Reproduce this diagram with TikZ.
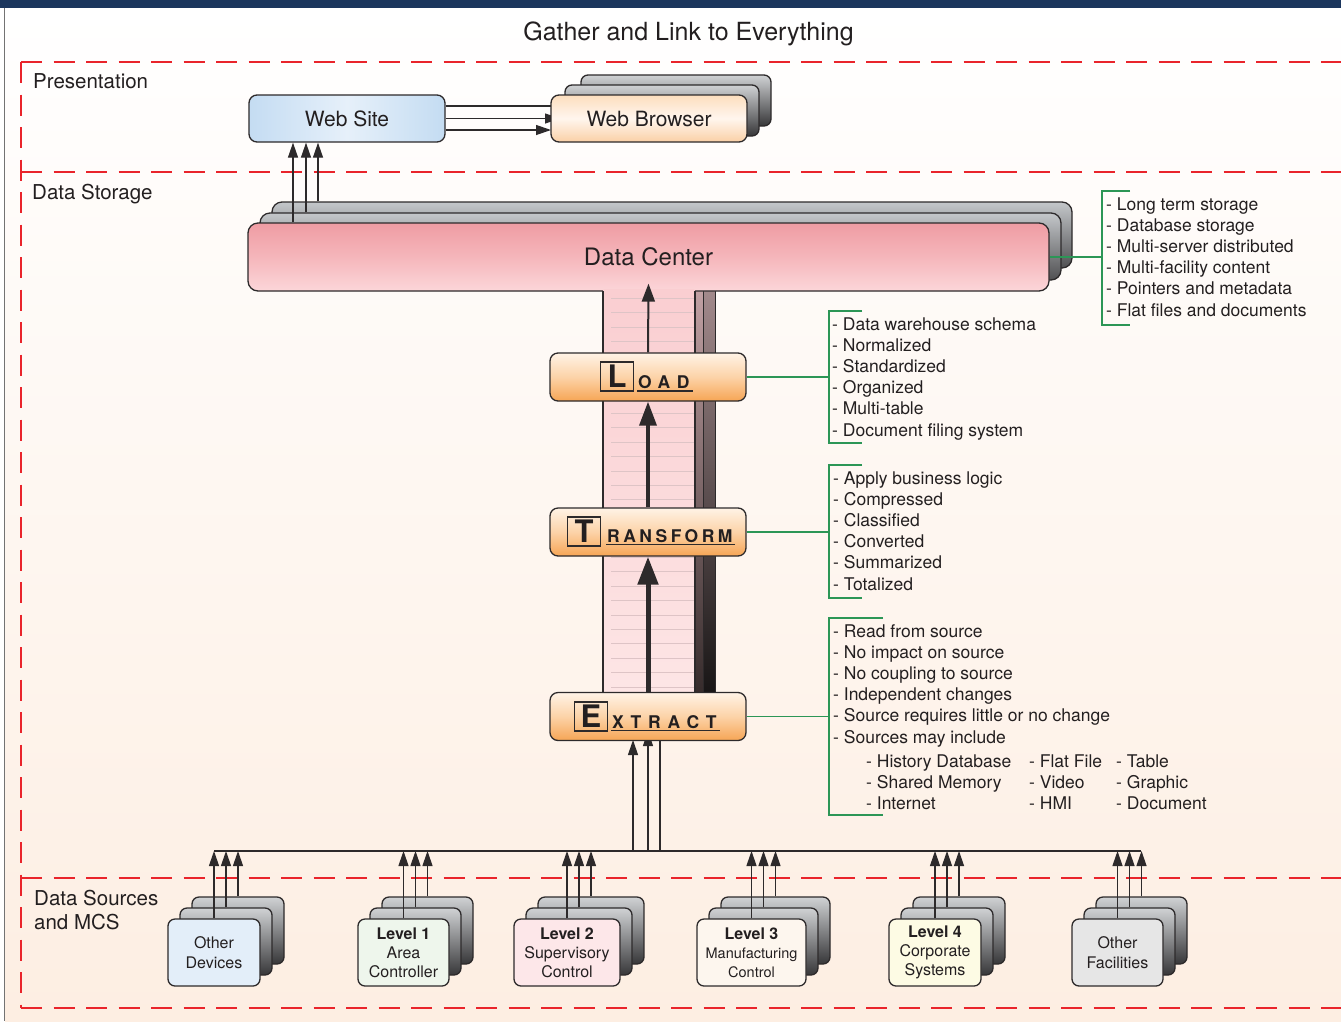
\documentclass[tikz,border=0pt]{standalone}
\usepackage{fontspec}
\setmainfont{TeX Gyre Heros}
\usetikzlibrary{arrows.meta}

\definecolor{barnavy}{RGB}{27,54,93}
\definecolor{zonered}{RGB}{233,36,43}
\definecolor{bgpeach}{RGB}{253,238,226}
\definecolor{linkgreen}{RGB}{44,150,86}
\definecolor{ink}{RGB}{35,31,32}
\definecolor{edge}{RGB}{45,42,43}
\definecolor{wsblue}{RGB}{196,220,242}
\definecolor{wslight}{RGB}{230,240,250}
\definecolor{wbtop}{RGB}{252,222,190}
\definecolor{wbmid}{RGB}{255,246,238}
\definecolor{wbbot}{RGB}{250,208,166}
\definecolor{dctop}{RGB}{239,156,163}
\definecolor{dcmid}{RGB}{245,182,187}
\definecolor{dcbot}{RGB}{252,214,217}
\definecolor{stemtop}{RGB}{250,206,209}
\definecolor{stembot}{RGB}{253,230,230}
\definecolor{stemline}{RGB}{222,196,198}
\definecolor{etltop}{RGB}{255,243,230}
\definecolor{etlmid}{RGB}{252,211,168}
\definecolor{etlbot}{RGB}{246,165,85}
\definecolor{laytop}{RGB}{208,210,212}
\definecolor{laybot}{RGB}{55,55,57}
\definecolor{dclaytop}{RGB}{196,199,202}
\definecolor{dclaybot}{RGB}{80,80,82}
\definecolor{shadeAtop}{RGB}{196,163,166}
\definecolor{shadeAbot}{RGB}{50,40,40}
\definecolor{shadeBtop}{RGB}{165,140,142}
\definecolor{shadeBbot}{RGB}{20,18,18}
\definecolor{srcblue}{RGB}{227,238,249}
\definecolor{srcgreen}{RGB}{238,246,236}
\definecolor{srcpink}{RGB}{253,231,233}
\definecolor{srccream}{RGB}{253,246,238}
\definecolor{srcyellow}{RGB}{253,251,228}
\definecolor{srcgray}{RGB}{230,230,230}

\tikzset{
  outline/.style={draw=edge, line width=1.3pt, rounded corners=8pt, inner sep=0pt, text=ink},
  backlayer/.style={outline, rounded corners=7pt, top color=laytop, bottom color=laybot},
  dclayer/.style={outline, rounded corners=10pt, top color=dclaytop, bottom color=dclaybot},
  srcbox/.style={outline, rounded corners=7pt, align=center, minimum height=67pt},
  etlbox/.style={outline, minimum width=196pt, minimum height=48pt,
    top color=etltop, bottom color=etlbot, middle color=etlmid},
  initial/.style={draw=edge, line width=1.8pt, inner sep=0pt, minimum width=33pt,
    minimum height=29pt, text=ink, font=\fontsize{31}{31}\selectfont\bfseries},
  spaced/.style={anchor=base west, inner sep=0pt, text=ink,
    font=\fontsize{17.5}{20}\selectfont\bfseries},
  section/.style={anchor=base west, inner sep=0pt, align=left, text=ink,
    font=\fontsize{20.5}{24}\selectfont},
  listtext/.style={anchor=base west, inner sep=0pt, align=left, text=ink,
    font=\fontsize{17.5}{21.2}\selectfont},
  arr/.style={draw=edge, line width=1.2pt, -{Triangle[length=15pt,width=10pt]}},
  flowthin/.style={draw=edge, line width=2pt, -{Triangle[length=18pt,width=13pt]}},
  flowmid/.style={draw=edge, line width=3.5pt, -{Triangle[length=24pt,width=17pt]}},
  flowthick/.style={draw=edge, line width=5pt, -{Triangle[length=28pt,width=20pt]}},
  link/.style={draw=linkgreen, line width=1.3pt},
  zone/.style={draw=zonered, line width=1.3pt, dash pattern=on 21pt off 11.5pt},
}

% one stacked data source: name, left x, width, fill, text, font
\newcommand\srcstack[6]{%
  \node[backlayer, minimum width=#3pt, minimum height=67pt] (#1b3) at ({#2+#3/2+24}, 930.5) {};
  \node[backlayer, minimum width=#3pt, minimum height=67pt] (#1b2) at ({#2+#3/2+12}, 941.5) {};
  \node[srcbox, fill=#4, minimum width=#3pt, font=#6] (#1) at ({#2+#3/2}, 952.5) {#5};
  \draw[arr] (#1.north) -- (#1.north |- busL);
  \draw[arr] (#1b2.north) -- (#1b2.north |- busL);
  \draw[arr] (#1b3.north) -- (#1b3.north |- busL);
}

\begin{document}
\begin{tikzpicture}[x=1pt,y=-1pt]
\useasboundingbox (0,0) rectangle (1341,1021);

% page background, header band and left rule
\fill[white] (0,0) rectangle (1341,1021);
\shade[top color=white, bottom color=bgpeach] (5,8) rectangle (1341,1021);
\fill[barnavy] (0,0) rectangle (1341,8);
\draw[black!55, line width=1.4pt] (4.5,8) -- (4.5,1021);

% tier boundaries
\draw[zone] (21,62) -- (1341,62);
\draw[zone] (21,172) -- (1341,172);
\draw[zone] (21,878) -- (1341,878);
\draw[zone] (21,1008) -- (1341,1008);
\draw[zone] (21,62) -- (21,1008);

\node[font=\fontsize{25}{28}\selectfont, text=ink] (title) at (688.5,34) {Gather and Link to Everything};
\node[section] (presentation) at (33,88) {Presentation};
\node[section] (storage) at (32,199) {Data Storage};
% multi-line nodes sit on the baseline of their last line
\node[section] (sources) at (34,929) {Data Sources\\and MCS};

% ---------- presentation tier ----------
\node[outline, minimum width=196pt, minimum height=47pt, left color=wsblue, right color=wsblue,
  middle color=wslight, font=\fontsize{21}{25}\selectfont] (ws) at (347,118.5) {Web Site};
\node[backlayer, minimum width=190pt, minimum height=51pt] (wbb3) at (676,100.5) {};
\node[backlayer, minimum width=194pt, minimum height=51pt] (wbb2) at (662,110.5) {};
\coordinate (r1) at (0,106);
\coordinate (r2) at (0,118.5);
\coordinate (r3) at (0,130);
\draw[draw=edge, line width=1.2pt] (ws.east |- r1) -- (wbb2.west |- r1);
\draw[arr] (ws.east |- r2) -- (560,118.5);
\draw[arr] (ws.east |- r3) -- (551,130);
\node[outline, minimum width=196pt, minimum height=47pt, top color=wbtop, bottom color=wbbot,
  middle color=wbmid, font=\fontsize{21}{25}\selectfont] (wb) at (649,118.5) {Web Browser};

% ---------- data center (T shaped stack) ----------
\node[dclayer, minimum width=800pt, minimum height=66pt] (dcb3) at (672,235) {};
\node[dclayer, minimum width=801pt, minimum height=67pt] (dcb2) at (660.5,246.5) {};
\shade[top color=shadeBtop, bottom color=shadeBbot] (680,282) rectangle (715,705);
\shade[top color=shadeAtop, bottom color=shadeAbot] (680,282) rectangle (703,705);
\draw[edge, line width=0.9pt] (703,282) -- (703,705) (715,282) -- (715,705);
\node[outline, rounded corners=10pt, minimum width=801pt, minimum height=68pt,
  top color=dctop, bottom color=dcbot, middle color=dcmid] (dc) at (648.5,257) {};
\shade[top color=stemtop, bottom color=stembot] (603.6,289) rectangle (694.4,705);
\foreach \k in {0,...,27}
  \draw[stemline, line width=0.5pt] (611,{298+14.4*\k}) -- (694,{298+14.4*\k});
\draw[edge, line width=1.3pt] (603,291) -- (603,705) (695,291) -- (695,705);
\node[text=ink, font=\fontsize{24}{28}\selectfont] (dclabel) at (dc.center) {Data Center};

% feeds up to the web site
\coordinate (q1) at (293,0);
\coordinate (q2) at (306,0);
\coordinate (q3) at (318,0);
\draw[arr] (dc.north -| q1) -- (ws.south -| q1);
\draw[arr] (dcb2.north -| q2) -- (ws.south -| q2);
\draw[arr] (dcb3.north -| q3) -- (ws.south -| q3);

% ---------- ETL stages ----------
\coordinate (busL) at (214,851);
\coordinate (busR) at (1141,851);
\coordinate (x1) at (633,0);
\coordinate (x2) at (648,0);
\coordinate (x3) at (660,0);

\node[etlbox] (load) at (648,377) {};
\node[etlbox] (transform) at (648,532) {};
\draw[arr] (x1 |- busL) -- (633,740);
\draw[arr] (x2 |- busL) -- (648,731);
\draw[draw=edge, line width=1.2pt] (x3 |- busL) -- (660,715);
\node[etlbox] (extract) at (648,716.5) {};

\draw[flowthin] (load.north) -- ([yshift=8pt]dc.south);
\draw[flowmid] (transform.north) -- (load.south);
\draw[flowthick] (extract.north) -- (transform.south);

\node[initial] (lsq) at (617,376.5) {L};
\node[spaced] (lword) at (638,388.5) {\addfontfeature{LetterSpace=37}OAD};
\draw[edge, line width=1.6pt] ([shift={(-1pt,-2.5pt)}]lword.base west) -- ([shift={(3pt,-2.5pt)}]lword.base east);

\node[initial] (tsq) at (584,531.5) {T};
\node[spaced] (tword) at (607,542) {\addfontfeature{LetterSpace=20}RANSFORM};
\draw[edge, line width=1.6pt] ([shift={(-1pt,-2.5pt)}]tword.base west) -- ([shift={(2pt,-2.5pt)}]tword.base east);

\node[initial] (esq) at (591,716.5) {E};
\node[spaced] (eword) at (612,728) {\addfontfeature{LetterSpace=39}XTRACT};
\draw[edge, line width=1.6pt] ([shift={(-1pt,-2.5pt)}]eword.base west) -- ([shift={(3pt,-2.5pt)}]eword.base east);

% ---------- notes ----------
\coordinate (dcbr) at (1102,0);
\coordinate (etlbr) at (829,0);
\draw[link] (dc.east) -- (dc.east -| dcbr);
\draw[link] (1130,191) -- (1102,191) -- (1102,325) -- (1130,325);
\node[listtext] (dcnotes) at (1106,316) {- Long term storage\\- Database storage\\- Multi-server distributed\\- Multi-facility content\\- Pointers and metadata\\- Flat files and documents};

\draw[link] (load.east) -- (load.east -| etlbr);
\draw[link] (862,311) -- (829,311) -- (829,443) -- (862,443);
\node[listtext] (loadnotes) at (832,436) {- Data warehouse schema\\- Normalized\\- Standardized\\- Organized\\- Multi-table\\- Document filing system};

\draw[link] (transform.east) -- (transform.east -| etlbr);
\draw[link] (862,465) -- (829,465) -- (829,598) -- (862,598);
\node[listtext] (transnotes) at (833,590) {- Apply business logic\\- Compressed\\- Classified\\- Converted\\- Summarized\\- Totalized};

\draw[link] (extract.east) -- (extract.east -| etlbr);
\draw[link] (883,618) -- (829,618) -- (829,815) -- (883,815);
\node[listtext] (extnotes) at (833,743) {- Read from source\\- No impact on source\\- No coupling to source\\- Independent changes\\- Source requires little or no change\\- Sources may include};
\node[listtext] (srccolA) at (866,809.4) {- History Database\\- Shared Memory\\- Internet};
\node[listtext] (srccolB) at (1029,809.4) {- Flat File\\- Video\\- HMI};
\node[listtext] (srccolC) at (1116,809.4) {- Table\\- Graphic\\- Document};

% ---------- data sources ----------
\draw[draw=edge, line width=1.6pt] (busL) -- (busR);
\srcstack{odev}{168}{92}{srcblue}{Other\\Devices}{\fontsize{16}{20}\selectfont}
\srcstack{lvla}{358}{91}{srcgreen}{\textbf{Level 1}\\Area\\Controller}{\fontsize{16}{19}\selectfont}
\srcstack{lvlb}{514}{106}{srcpink}{\textbf{Level 2}\\Supervisory\\Control}{\fontsize{16}{19}\selectfont}
\srcstack{lvlc}{697}{109}{srccream}{{\fontsize{16}{19}\selectfont\bfseries Level 3}\\Manufacturing\\Control}{\fontsize{14.5}{19}\selectfont}
\srcstack{lvld}{889}{92}{srcyellow}{\textbf{Level 4}\\Corporate\\Systems}{\fontsize{16}{19}\selectfont}
\srcstack{ofac}{1072}{91}{srcgray}{Other\\Facilities}{\fontsize{16}{20}\selectfont}

\end{tikzpicture}
\end{document}
